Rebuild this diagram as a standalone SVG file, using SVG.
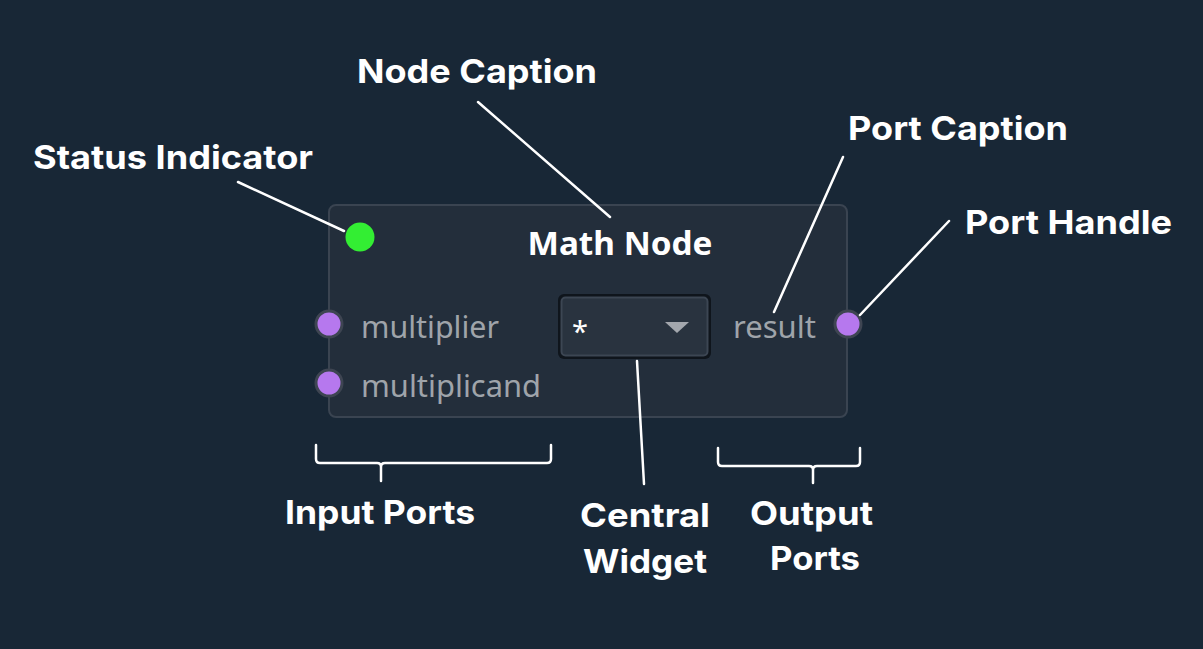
<svg xmlns="http://www.w3.org/2000/svg" width="1203" height="649" viewBox="0 0 1203 649">
<defs>
<style>
.lbl{font-family:Inter,"Liberation Sans",sans-serif;font-weight:700;font-size:33px;fill:#ffffff}
.port{font-family:"Noto Sans","Open Sans","Liberation Sans",sans-serif;font-size:30px;fill:#9fa4aa}
.handle{fill:#b678ee;stroke:#3e4552;stroke-width:3}
.lead{stroke:#ffffff;stroke-width:2.5;fill:none;stroke-linecap:round;stroke-linejoin:round}
</style>
</defs>
<rect x="0" y="0" width="1203" height="649" fill="#182736"/>

<g id="node-math">
<rect x="329" y="205" width="518" height="212" rx="7" fill="#232e3b" stroke="#3a4451" stroke-width="2"/>
<text x="620" y="255" text-anchor="middle" font-family="'Noto Sans','Open Sans','Liberation Sans',sans-serif" font-weight="700" font-size="32" fill="#ffffff" textLength="185" lengthAdjust="spacingAndGlyphs">Math Node</text>
</g>

<g id="status-indicator">
<circle cx="360" cy="237" r="14.5" fill="#33ee33"/>
</g>

<g id="input-multiplier">
<circle class="handle" cx="329" cy="324" r="13"/>
<text class="port" x="361" y="338" textLength="138" lengthAdjust="spacingAndGlyphs">multiplier</text>
</g>

<g id="input-multiplicand">
<circle class="handle" cx="329" cy="383" r="13"/>
<text class="port" x="361" y="397" textLength="180" lengthAdjust="spacingAndGlyphs">multiplicand</text>
</g>

<g id="output-result">
<text class="port" x="733" y="338" textLength="83" lengthAdjust="spacingAndGlyphs">result</text>
<circle class="handle" cx="848" cy="324" r="13"/>
</g>

<g id="central-widget">
<rect x="558" y="294" width="153" height="65" rx="6" fill="#0f151c"/>
<rect x="561.5" y="297.5" width="146" height="58" rx="4" fill="#29333f" stroke="#3c4653" stroke-width="2"/>
<text x="572" y="342" font-family="'Noto Sans','Liberation Sans',sans-serif" font-size="29" fill="#ffffff">*</text>
<polygon points="665,322 689,322 677,333" fill="#a3a7ad"/>
</g>

<g id="connectors">
<line class="lead" x1="238" y1="182" x2="344" y2="231"/>
<line class="lead" x1="478" y1="102" x2="610" y2="217"/>
<line class="lead" x1="843" y1="157" x2="774" y2="312"/>
<line class="lead" x1="949" y1="221" x2="860" y2="315"/>
<line class="lead" x1="637" y1="361" x2="644" y2="484"/>
<path class="lead" d="M316,445 V459 Q316,463 320,463 H377 Q381,463 381,467 V481 M381,467 Q381,463 385,463 H547 Q551,463 551,459 V445"/>
<path class="lead" d="M718,448 V462 Q718,466 722,466 H809 Q813,466 813,470 V483 M813,470 Q813,466 817,466 H856 Q860,466 860,462 V448"/>
</g>

<g id="labels">
<text class="lbl" x="33" y="169" textLength="280" lengthAdjust="spacingAndGlyphs">Status Indicator</text>
<text class="lbl" x="357" y="83" textLength="240" lengthAdjust="spacingAndGlyphs">Node Caption</text>
<text class="lbl" x="848" y="140" textLength="220" lengthAdjust="spacingAndGlyphs">Port Caption</text>
<text class="lbl" x="965" y="234" textLength="207" lengthAdjust="spacingAndGlyphs">Port Handle</text>
<text class="lbl" x="285" y="524" textLength="190" lengthAdjust="spacingAndGlyphs">Input Ports</text>
<text class="lbl" x="580" y="527" textLength="130" lengthAdjust="spacingAndGlyphs">Central</text>
<text class="lbl" x="583" y="573" textLength="124" lengthAdjust="spacingAndGlyphs">Widget</text>
<text class="lbl" x="750" y="525" textLength="123" lengthAdjust="spacingAndGlyphs">Output</text>
<text class="lbl" x="770" y="570" textLength="90" lengthAdjust="spacingAndGlyphs">Ports</text>
</g>
</svg>
